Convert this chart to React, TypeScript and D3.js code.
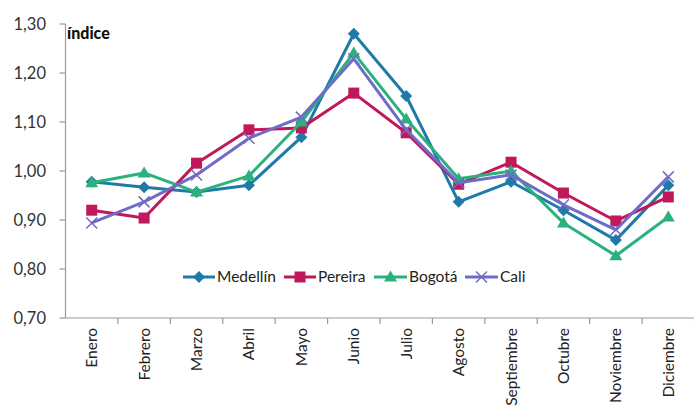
import React from "react";
import * as d3 from "d3";

const months = ["Enero","Febrero","Marzo","Abril","Mayo","Junio","Julio","Agosto","Septiembre","Octubre","Noviembre","Diciembre"];
const medellin = [0.978,0.967,0.957,0.971,1.069,1.280,1.153,0.937,0.978,0.920,0.859,0.971];
const pereira = [0.920,0.904,1.016,1.084,1.088,1.159,1.078,0.973,1.018,0.955,0.898,0.947];
const bogota = [0.976,0.996,0.957,0.990,1.100,1.241,1.106,0.984,1.000,0.894,0.827,0.906];
const cali = [0.894,0.937,0.992,1.067,1.110,1.229,1.084,0.976,0.992,0.931,0.880,0.988];
const yTicks = [0.7,0.8,0.9,1.0,1.1,1.2,1.3];

const seriesNames = ["Medellín","Pereira","Bogotá","Cali"];
const seriesValues = [medellin, pereira, bogota, cali];
const seriesColors = ["#1f7aa8","#c0185a","#2bb17b","#6e6cc6"];
const seriesMarkers = ["diamond","square","triangle","x"];

const FONT = "Lato, 'Noto Sans', sans-serif";

function Marker({ type, x, y, color }: { type: string; x: number; y: number; color: string }) {
  if (type === "diamond") {
    const s = 6;
    return <path d={`M${x},${y - s}L${x + s},${y}L${x},${y + s}L${x - s},${y}Z`} fill={color} />;
  }
  if (type === "square") {
    const s = 5.5;
    return <rect x={x - s} y={y - s} width={2 * s} height={2 * s} fill={color} />;
  }
  if (type === "triangle") {
    const s = 6.5;
    return <path d={`M${x},${y - s}L${x + s},${y + s * 0.7}L${x - s},${y + s * 0.7}Z`} fill={color} />;
  }
  const s = 5.5;
  return (
    <path d={`M${x - s},${y - s}L${x + s},${y + s}M${x - s},${y + s}L${x + s},${y - s}`} stroke={color} strokeWidth={1.5} fill="none" />
  );
}

export default function App() {
  const W = 694, H = 409;
  const left = 65.5, right = 694.5, top = 24, bottom = 318;
  const x = d3.scaleBand<string>().domain(months).range([left, right]);
  const y = d3.scaleLinear().domain([0.7, 1.3]).range([bottom, top]);
  const fmt = (v: number) => v.toFixed(2).replace(".", ",");
  const line = d3.line<number>()
    .x((_, i) => (x(months[i]) as number) + x.bandwidth() / 2)
    .y((d) => y(d));

  const legendItems = [
    { lx: 183, tx: 217 },
    { lx: 284, tx: 318 },
    { lx: 374, tx: 409 },
    { lx: 465, tx: 500 },
  ];
  const ly = 277;

  return (
    <svg width={W} height={H} style={{ position: "absolute", left: 0, top: 0, background: "#fff" }} fontFamily={FONT}>
      {/* y axis */}
      <line x1={left} x2={left} y1={top} y2={bottom} stroke="#9a9a9a" strokeWidth={1.2} />
      {yTicks.map((t) => (
        <g key={t}>
          <line x1={left - 6} x2={left} y1={y(t)} y2={y(t)} stroke="#9a9a9a" strokeWidth={1.2} />
          <text x={46} y={y(t)} dy="0.35em" textAnchor="end" fontSize={16.5} fill="#333">{fmt(t)}</text>
        </g>
      ))}
      {/* x axis */}
      <line x1={left} x2={right} y1={bottom} y2={bottom} stroke="#9a9a9a" strokeWidth={1.2} />
      {months.map((m) => (
        <line key={"t" + m} x1={(x(m) as number) + x.bandwidth()} x2={(x(m) as number) + x.bandwidth()} y1={bottom} y2={bottom + 6} stroke="#9a9a9a" strokeWidth={1.2} />
      ))}
      {months.map((m) => {
        const cx = (x(m) as number) + x.bandwidth() / 2;
        return (
          <text key={m} transform={`translate(${cx + 5.5},${328}) rotate(-90)`} textAnchor="end" fontSize={15.5} fill="#222">{m}</text>
        );
      })}
      <text x={67} y={39} fontSize={16} fontWeight={900} fill="#111">índice</text>
      {/* series */}
      {seriesValues.map((vals, si) => (
        <g key={seriesNames[si]}>
          <path d={line(vals) || ""} fill="none" stroke={seriesColors[si]} strokeWidth={3} strokeLinejoin="round" />
          {vals.map((v, i) => (
            <Marker key={i} type={seriesMarkers[si]} x={(x(months[i]) as number) + x.bandwidth() / 2} y={y(v)} color={seriesColors[si]} />
          ))}
        </g>
      ))}
      {/* legend */}
      {legendItems.map((it, si) => (
        <g key={"lg" + si}>
          <line x1={it.lx} x2={it.tx - 2} y1={ly} y2={ly} stroke={seriesColors[si]} strokeWidth={3} />
          <Marker type={seriesMarkers[si]} x={(it.lx + it.tx - 2) / 2} y={ly} color={seriesColors[si]} />
          <text x={it.tx} y={ly} dy="0.35em" fontSize={15.5} fill="#222">{seriesNames[si]}</text>
        </g>
      ))}
    </svg>
  );
}
